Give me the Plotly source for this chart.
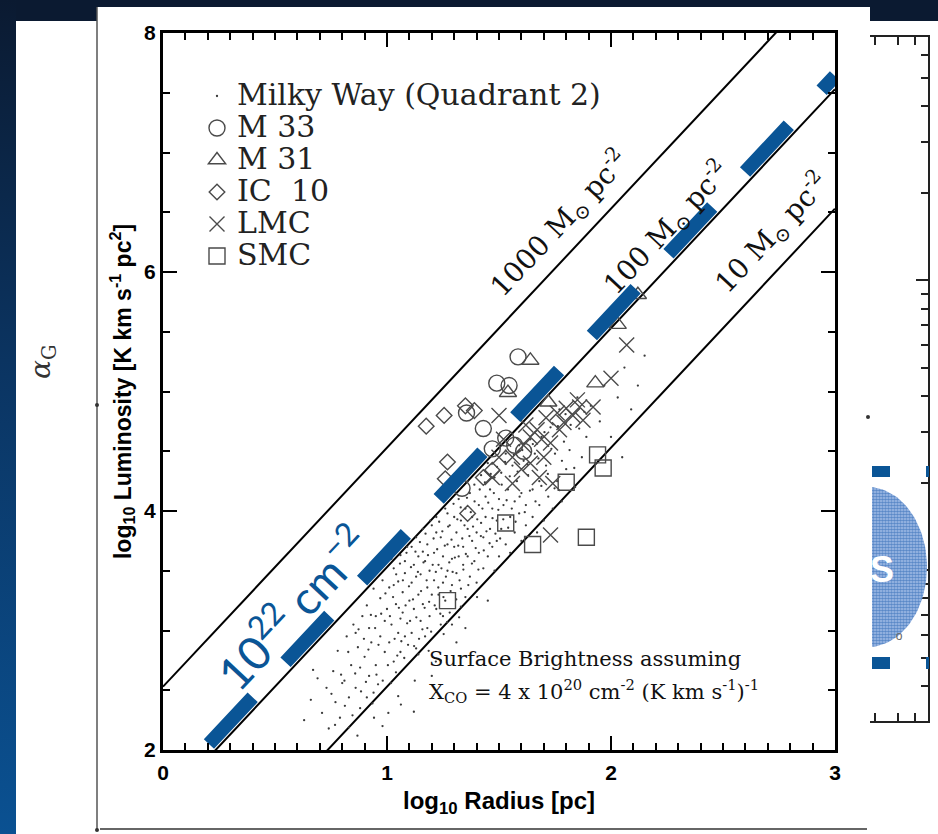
import numpy as np
import plotly.graph_objects as go

W, H = 938, 834

# ---------------- data ----------------
iso_labels = ["1000 M<sub>⊙</sub> pc<sup>-2</sup>", "100 M<sub>⊙</sub> pc<sup>-2</sup>", "10 M<sub>⊙</sub> pc<sup>-2</sup>"]
iso_x = [0.0, 3.0]
iso_y_1000 = [2.53, 8.53]
iso_y_100 = [1.53, 7.53]
iso_y_10 = [0.53, 6.53]
iso_label_x = [1.772, 2.25, 2.72]
iso_label_y = [6.41, 6.36, 6.32]

col_x = [0.205, 3.0]          # 10^22 cm^-2 column-density line
col_y = [2.05, 7.64]

mw_x = [0.71,0.73,0.74,0.76,0.77,0.78,0.79,0.63,0.66,0.69,
        0.81,0.82,0.83,0.84,0.85,0.86,0.87,0.88,0.89,0.83,0.86,0.88,
        0.90,0.91,0.92,0.92,0.93,0.94,0.95,0.95,0.96,0.97,0.97,0.98,0.99,0.99,0.94,1.00,0.91,
        1.01,1.01,1.02,1.03,1.03,1.04,1.05,1.05,1.06,1.06,1.07,1.07,1.08,1.08,1.09,1.09,1.10,1.02,1.04,1.06,1.08,1.03,
        1.11,1.11,1.12,1.12,1.13,1.13,1.14,1.14,1.15,1.15,1.16,1.16,1.17,1.17,1.18,1.18,1.19,1.19,1.20,1.20,1.13,1.16,1.18,1.11,1.14,
        1.21,1.21,1.22,1.22,1.23,1.23,1.24,1.24,1.25,1.25,1.26,1.26,1.27,1.27,1.28,1.28,1.29,1.29,1.30,1.30,1.22,1.25,1.27,1.29,
        1.31,1.31,1.32,1.32,1.33,1.33,1.34,1.34,1.35,1.35,1.36,1.36,1.37,1.37,1.38,1.38,1.39,1.39,1.40,1.40,1.33,1.36,
        1.41,1.41,1.42,1.42,1.43,1.43,1.44,1.44,1.45,1.45,1.46,1.46,1.47,1.47,1.48,1.48,1.49,1.49,1.50,1.50,
        1.51,1.51,1.52,1.53,1.53,1.54,1.55,1.55,1.56,1.57,1.57,1.58,1.59,1.59,1.60,1.60,
        1.61,1.62,1.62,1.63,1.64,1.65,1.65,1.66,1.67,1.68,1.68,1.69,1.70,
        1.71,1.72,1.73,1.74,1.75,1.76,1.77,1.78,1.79,1.80,
        1.82,1.84,1.85,1.87,1.89,1.91,1.93,1.95,1.97,
        2.00,2.03,2.06,2.09,2.12,2.15,2.05,
        1.12,1.20,1.05,0.98,1.35,1.45,0.67,0.80,1.24,1.31,
        0.752,0.768,0.795,0.812,0.827,0.846,0.858,0.873,0.884,0.897,
        0.906,0.917,0.928,0.935,0.947,0.953,0.962,0.974,0.981,0.993,
        1.004,1.013,1.018,1.027,1.034,1.041,1.046,1.053,1.058,1.064,
        1.071,1.077,1.083,1.087,1.094,1.098,1.103,1.107,1.116,1.121,
        1.127,1.131,1.138,1.143,1.147,1.152,1.158,1.163,1.168,1.172,
        1.177,1.183,1.188,1.193,1.197,1.204,1.208,1.213,1.218,1.224,
        1.229,1.233,1.238,1.243,1.247,1.252,1.258,1.263,1.268,1.273,
        1.278,1.284,1.288,1.293,1.297,1.303,1.309,1.314,1.318,1.324,
        1.329,1.336,1.341,1.346,1.352,1.357,1.363,1.368,1.374,1.379,
        1.384,1.391,1.396,1.403,1.408,1.414,1.419,1.426,1.432,1.437,
        1.444,1.452,1.458,1.463,1.471,1.477,1.484,1.491,1.497,1.505,
        1.512,1.519,1.527,1.534,1.541,1.548,1.557,1.566,1.574,1.583,
        1.592,1.604,1.615,1.627,1.638,1.651,1.663,1.676,1.689,1.703,
        1.718,1.734,1.748,1.763,1.781,1.797,1.815,1.836,1.858,1.881,
        1.124,1.186,1.062,0.942,1.253,1.322,1.402,1.218,0.868,1.006]
mw_y = [2.31,2.52,2.18,2.66,2.40,2.83,2.27,2.25,2.42,2.60,
        2.58,2.95,2.44,2.71,3.05,2.52,2.86,2.35,3.12,2.19,2.98,2.69,
        2.78,3.21,2.62,3.02,2.90,3.35,2.71,3.12,2.55,3.27,2.95,3.42,2.82,3.08,2.48,3.18,2.44,
        2.90,3.36,3.05,2.74,3.52,3.22,2.98,3.41,2.82,3.63,3.15,3.32,2.95,3.48,3.06,3.70,3.25,3.60,2.65,3.10,3.58,3.38,
        3.40,2.98,3.55,3.18,2.85,3.78,3.30,3.62,3.08,3.47,3.85,3.22,2.95,3.58,3.36,3.72,3.12,3.50,3.88,3.30,3.45,3.66,3.02,3.70,2.80,
        3.42,3.65,3.18,3.95,3.55,3.30,3.78,3.05,3.62,3.40,4.02,3.25,3.72,3.50,3.88,3.15,3.60,3.38,3.95,3.70,3.82,3.12,3.98,3.05,
        3.48,3.82,3.62,4.10,3.35,3.92,3.70,3.55,4.02,3.28,3.85,3.62,4.15,3.45,3.75,3.95,3.58,4.22,3.82,3.40,3.20,4.25,
        4.05,3.65,3.90,4.30,3.52,3.78,4.12,3.95,3.62,4.40,3.85,4.18,3.70,4.02,3.50,4.28,3.92,3.75,4.10,3.62,
        4.32,3.85,4.05,3.72,4.48,4.18,3.95,3.65,4.38,4.08,3.82,4.25,3.98,4.55,3.75,4.15,
        4.42,4.05,3.88,4.30,4.60,3.95,4.18,4.48,3.82,4.25,4.05,4.62,3.92,
        4.38,4.12,4.70,4.02,4.48,4.25,4.85,4.08,4.58,4.35,
        4.72,4.20,4.95,4.45,4.62,4.88,4.40,4.75,5.05,
        4.62,4.95,5.20,4.85,5.05,5.30,4.45,
        2.32,2.62,2.45,2.20,3.02,3.25,2.67,2.56,2.75,2.90,
        2.47,2.21,2.63,2.37,2.82,2.29,2.64,3.01,2.49,2.93,
        2.57,2.84,3.13,2.39,3.02,2.63,2.88,3.14,2.58,3.31,
        2.71,3.12,2.56,3.28,2.93,3.47,2.79,3.19,3.56,2.91,
        3.42,2.77,3.21,3.65,2.88,3.37,3.08,3.53,3.26,2.87,
        3.66,3.11,3.49,2.93,3.74,3.33,3.01,3.57,3.19,3.81,
        3.42,3.63,3.24,3.92,2.99,3.55,3.77,3.21,3.49,3.68,
        3.36,3.91,3.14,3.52,3.83,3.28,3.71,3.45,3.07,3.87,
        3.57,3.33,3.76,3.49,4.06,3.61,3.26,3.93,3.71,3.42,
        4.03,3.77,3.51,3.88,3.64,4.11,3.38,3.79,3.99,3.56,
        3.87,4.08,3.69,3.93,3.51,4.18,3.79,4.02,3.67,4.24,
        3.83,4.07,3.73,4.31,3.94,4.15,3.81,4.37,4.01,3.77,
        4.22,3.93,4.41,4.09,3.86,4.29,4.02,4.47,3.91,4.33,
        4.12,4.51,3.99,4.39,4.17,4.56,4.08,4.44,4.21,4.66,
        4.31,4.52,4.19,4.71,4.42,4.81,4.51,4.36,4.69,4.83,
        2.58,2.83,2.38,2.27,2.97,3.11,3.28,2.74,2.12,2.31]

m33_x = [1.585, 1.49, 1.545, 1.355, 1.43, 1.53, 1.57, 1.335, 1.47, 1.61]
m33_y = [5.29, 5.07, 5.05, 4.82, 4.69, 4.61, 4.55, 4.19, 4.52, 4.50]

m31_x = [1.64, 1.54, 1.72, 1.93, 2.03, 2.12]
m31_y = [5.26, 4.99, 4.91, 5.07, 5.56, 5.81]

ic10_x = [1.175, 1.255, 1.35, 1.39, 1.27, 1.26, 1.36, 1.43, 1.47]
ic10_y = [4.71, 4.80, 4.88, 4.84, 4.41, 4.27, 3.98, 4.28, 4.34]

lmc_x = [2.07, 2.00, 1.50, 1.86, 1.80, 1.76, 1.71, 1.67, 1.64, 1.61, 1.73, 1.77, 1.56, 1.64,
         1.50, 1.68, 1.74, 1.56, 1.47, 1.73, 1.875, 1.92, 1.85, 1.52, 1.60, 1.70, 1.83, 1.79, 1.69, 1.62]
lmc_y = [5.39, 5.11, 4.80, 4.87, 4.86, 4.82, 4.78, 4.68, 4.62, 4.55, 4.57, 4.68, 4.45, 4.40,
         4.45, 4.28, 4.23, 4.23, 4.28, 3.80, 4.76, 4.87, 4.93, 4.60, 4.35, 4.45, 4.80, 4.74, 4.60, 4.72]

smc_x = [1.94, 1.965, 1.80, 1.53, 1.65, 1.89, 1.27]
smc_y = [4.47, 4.36, 4.24, 3.90, 3.72, 3.78, 3.25]

x_ticks = [0, 1, 2, 3]
y_ticks = [2, 4, 6, 8]

# ---------------- helpers ----------------
def px(x):
    return x / W

def py(y):
    return 1 - y / H

BLUE = "#0a5596"
MARK = "#4a4a4a"
SERIF = "DejaVu Serif"
SANS = "Liberation Sans"

fig = go.Figure()

# background gradient strip on the left (slide background)
fig.add_trace(go.Scatter(
    x=[0, 16, 16, 0, 0], y=[0, 0, H, H, 0], xaxis="x2", yaxis="y2",
    mode="lines", line=dict(width=0), fill="toself",
    fillgradient=dict(type="vertical", start=0, stop=H,
                      colorscale=[[0, "#0b1a31"], [0.45, "#0b3563"], [1, "#0a5192"]]),
    hoverinfo="skip", showlegend=False))

# iso surface-density lines
for yy in (iso_y_1000, iso_y_100, iso_y_10):
    fig.add_trace(go.Scatter(x=iso_x, y=yy, mode="lines",
                             line=dict(color="black", width=2),
                             hoverinfo="skip", showlegend=False))

def nm(s):
    return '<span style="font-size:30px">' + s + '</span>'

fig.add_trace(go.Scatter(x=mw_x, y=mw_y, mode="markers", name=nm("Milky Way (Quadrant 2)"),
                         marker=dict(symbol="circle", size=2.3, color="#3a3a3a", line=dict(width=0))))
fig.add_trace(go.Scatter(x=m33_x, y=m33_y, mode="markers", name=nm("M\u00a033"),
                         marker=dict(symbol="circle-open", size=16, color=MARK, line=dict(width=1.4, color=MARK))))
fig.add_trace(go.Scatter(x=m31_x, y=m31_y, mode="markers", name=nm("M\u00a031"),
                         marker=dict(symbol="triangle-up-open", size=15, color=MARK, line=dict(width=1.4, color=MARK))))
fig.add_trace(go.Scatter(x=ic10_x, y=ic10_y, mode="markers", name=nm("IC\u00a0\u00a010"),
                         marker=dict(symbol="diamond-open", size=12, color=MARK, line=dict(width=1.4, color=MARK))))
fig.add_trace(go.Scatter(x=lmc_x, y=lmc_y, mode="markers", name=nm("LMC"),
                         marker=dict(symbol="x-thin-open", size=15, color=MARK, line=dict(width=1.4, color=MARK))))
fig.add_trace(go.Scatter(x=smc_x, y=smc_y, mode="markers", name=nm("SMC"),
                         marker=dict(symbol="square-open", size=16, color=MARK, line=dict(width=1.4, color=MARK))))

# thick blue dashed 10^22 cm^-2 line
fig.add_trace(go.Scatter(x=col_x, y=col_y, mode="lines",
                         line=dict(color=BLUE, width=14, dash="64px,48px"),
                         hoverinfo="skip", showlegend=False))

# right-hand partial panel decorations (clipped subplot x4/y4, pixel units)
th = np.linspace(0, 2 * np.pi, 120)
fig.add_trace(go.Scatter(
    x=868 + 59 * np.cos(th), y=567 + 80 * np.sin(th), xaxis="x4", yaxis="y4",
    mode="lines", line=dict(width=0), fill="toself", fillcolor="#6f97d6",
    fillpattern=dict(shape=".", fgcolor="#0b4fa3", bgcolor="#a9c2ea", size=3, solidity=0.65),
    hoverinfo="skip", showlegend=False))
fig.add_trace(go.Scatter(x=[882], y=[573], xaxis="x4", yaxis="y4", mode="text",
                         text=["<b>S</b>"], textfont=dict(family="Liberation Sans", size=36, color="white"),
                         cliponaxis=True, hoverinfo="skip", showlegend=False))
fig.add_trace(go.Scatter(x=[899], y=[637], xaxis="x4", yaxis="y4", mode="text",
                         text=["o"], textfont=dict(family=SANS, size=12, color="#666"),
                         cliponaxis=True, hoverinfo="skip", showlegend=False))
# invisible trace so that the x3/y3 frame is drawn
fig.add_trace(go.Scatter(x=[3], y=[1], xaxis="x3", yaxis="y3", mode="markers",
                         marker=dict(opacity=0), hoverinfo="skip", showlegend=False))

# ---------------- shapes (slide panels) ----------------
shapes = [
    dict(type="rect", xref="paper", yref="paper", x0=px(870), x1=px(938), y0=py(834), y1=py(21),
         fillcolor="white", line=dict(width=0), layer="below"),
    dict(type="rect", xref="paper", yref="paper", x0=px(16), x1=px(97), y0=py(834), y1=py(21),
         fillcolor="white", line=dict(width=0), layer="below"),
    dict(type="rect", xref="paper", yref="paper", x0=px(97), x1=px(870), y0=py(834), y1=py(7),
         fillcolor="white", line=dict(width=0), layer="below"),
    dict(type="line", xref="paper", yref="paper", x0=px(97), x1=px(97), y0=py(829), y1=py(7),
         line=dict(color="#555555", width=1.5), layer="above"),
    dict(type="line", xref="paper", yref="paper", x0=px(100), x1=px(867), y0=py(829), y1=py(829),
         line=dict(color="#333333", width=1.5), layer="above"),
    dict(type="circle", xref="paper", yref="paper", x0=px(95), x1=px(99), y0=py(407), y1=py(403),
         fillcolor="#333", line=dict(width=0), layer="above"),
    dict(type="circle", xref="paper", yref="paper", x0=px(95), x1=px(99), y0=py(832), y1=py(828),
         fillcolor="#333", line=dict(width=0), layer="above"),
    dict(type="circle", xref="paper", yref="paper", x0=px(866), x1=px(870), y0=py(419), y1=py(415),
         fillcolor="#333", line=dict(width=0), layer="above"),
]
for (ya, yb) in [(466, 477), (657, 669)]:
    shapes.append(dict(type="rect", xref="paper", yref="paper", x0=px(872), x1=px(890), y0=py(yb), y1=py(ya),
                       fillcolor=BLUE, line=dict(width=0), layer="above"))
    shapes.append(dict(type="rect", xref="paper", yref="paper", x0=px(926), x1=px(929), y0=py(yb), y1=py(ya),
                       fillcolor=BLUE, line=dict(width=0), layer="above"))

# ---------------- annotations ----------------
ann = []
ANG = -46.9
for lab, lx, ly in zip(iso_labels, iso_label_x, iso_label_y):
    ann.append(dict(x=lx, y=ly, xref="x", yref="y", text=lab, showarrow=False, textangle=ANG,
                    font=dict(family=SERIF, size=28, color="#111")))
ann.append(dict(x=0.576, y=3.20, xref="x", yref="y", text="10<sup>22</sup> cm<sup>−2</sup>",
                showarrow=False, textangle=ANG, font=dict(family="Lato", size=46, color=BLUE)))
ann.append(dict(x=1.18, y=2.76, xref="x", yref="y", text="Surface Brightness assuming",
                showarrow=False, xanchor="left", font=dict(family=SERIF, size=21, color="#111")))
ann.append(dict(x=1.18, y=2.49, xref="x", yref="y",
                text="X<sub>CO</sub> = 4 x 10<sup>20</sup> cm<sup>-2</sup> (K km s<sup>-1</sup>)<sup>-1</sup>",
                showarrow=False, xanchor="left", font=dict(family=SERIF, size=21, color="#111")))
ann.append(dict(x=px(42), y=py(362), xref="paper", yref="paper", text="<i>α</i><sub>G</sub>",
                xanchor="center", yanchor="middle",
                showarrow=False, textangle=-90, font=dict(family=SERIF, size=28, color="#333")))

tickfont = dict(family=SANS, size=21, color="black", weight="bold")

fig.update_layout(
    width=W, height=H, autosize=False,
    margin=dict(l=0, r=0, t=0, b=0, pad=0, autoexpand=False),
    paper_bgcolor="#0b1a31", plot_bgcolor="rgba(0,0,0,0)",
    shapes=shapes, annotations=ann,
    showlegend=True,
    legend=dict(x=px(197), y=py(75), xanchor="left", yanchor="top", bgcolor="rgba(0,0,0,0)",
                font=dict(family=SERIF, size=22.3, color="#222"), itemsizing="trace",
                tracegroupgap=0, itemwidth=30),
    xaxis=dict(domain=[px(163), px(835)], range=[0, 3], anchor="y", tickvals=x_ticks, automargin=False,
               ticks="inside", ticklen=14, tickwidth=2, tickcolor="black",
               showline=True, linewidth=3, linecolor="black", mirror="allticks",
               showgrid=False, zeroline=False, tickfont=tickfont, ticklabelstandoff=2,
               minor=dict(dtick=0.1, ticks="inside", ticklen=7, tickwidth=2, tickcolor="black", showgrid=False),
               title=dict(text="<b>log<sub>10</sub> Radius [pc]</b>", font=dict(family=SANS, size=24, color="black"),
                          standoff=9)),
    yaxis=dict(domain=[py(750), py(33)], range=[2, 8], anchor="x", tickvals=y_ticks, automargin=False,
               ticks="inside", ticklen=14, tickwidth=2, tickcolor="black",
               showline=True, linewidth=3, linecolor="black", mirror="allticks",
               showgrid=False, zeroline=False, tickfont=tickfont, ticklabelstandoff=0,
               minor=dict(dtick=0.5, ticks="inside", ticklen=7, tickwidth=2, tickcolor="black", showgrid=False),
               title=dict(text="<b>log<sub>10</sub> Luminosity [K km s<sup>-1</sup> pc<sup>2</sup>]</b>",
                          font=dict(family=SANS, size=23, color="black"), standoff=7)),
    xaxis2=dict(domain=[0, 1], range=[0, W], anchor="y2", visible=False, automargin=False),
    yaxis2=dict(domain=[0, 1], range=[H, 0], anchor="x2", visible=False, automargin=False),
    xaxis3=dict(domain=[px(870), px(928)], type="log", range=[0.264, 0.699], anchor="y3", automargin=False,
                tickvals=[2, 3, 4], showticklabels=False, ticks="inside", ticklen=8, tickwidth=1.5,
                tickcolor="#222", showline=True, linewidth=2, linecolor="#222", mirror="allticks",
                showgrid=False, zeroline=False),
    yaxis3=dict(domain=[py(721), py(37)], type="log", range=[-0.52, 1.84], anchor="x3", side="right",
                automargin=False,
                tickvals=[1, 10], showticklabels=False, ticks="inside", ticklen=12, tickwidth=1.5,
                tickcolor="#222", showline=True, linewidth=2, linecolor="#222",
                showgrid=False, zeroline=False,
                minor=dict(tickvals=[k / 10 for k in range(3, 10)] + list(range(2, 10)) + [20, 30, 40, 50, 60, 70],
                           ticks="inside", ticklen=7, tickwidth=1.5, tickcolor="#222", showgrid=False)),
    xaxis4=dict(domain=[px(872), 1], range=[872, 938], anchor="y4", visible=False, automargin=False),
    yaxis4=dict(domain=[0, py(21)], range=[834, 21], anchor="x4", visible=False, automargin=False),
)

fig.write_html("out.html", config={"displayModeBar": False, "responsive": False})

# remove the default page margin so the figure fills the window exactly
with open("out.html", "r", encoding="utf-8") as f:
    page = f.read()
page = page.replace("<head>", "<head><style>html,body{margin:0;padding:0;overflow:hidden;}</style>", 1)
with open("out.html", "w", encoding="utf-8") as f:
    f.write(page)
